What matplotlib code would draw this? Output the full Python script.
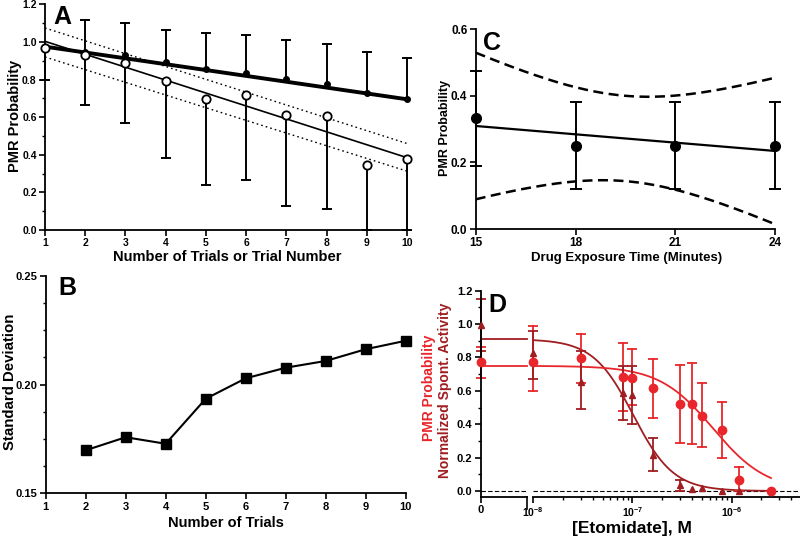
import numpy as np
import matplotlib
matplotlib.use("Agg")
import matplotlib.pyplot as plt
from matplotlib.ticker import MultipleLocator, FixedLocator, FixedFormatter, LogLocator, NullFormatter

plt.rcParams["font.family"] = ["Liberation Sans", "DejaVu Sans"]
plt.rcParams["font.weight"] = "bold"
plt.rcParams["axes.labelweight"] = "bold"
plt.rcParams["mathtext.fontset"] = "custom"
plt.rcParams["mathtext.rm"] = "Liberation Sans:bold"
plt.rcParams["mathtext.bf"] = "Liberation Sans:bold"

RED = "#e8262b"
DARKRED = "#a01e22"

# ---- panel A: PMR probability vs trial
trials = [1, 2, 3, 4, 5, 6, 7, 8, 9, 10]
closed_y = [0.97, 0.947, 0.929, 0.894, 0.855, 0.834, 0.802, 0.775, 0.729, 0.694]
closed_hi = [None, 1.115, 1.103, 1.066, 1.048, 1.036, 1.009, 0.988, 0.944, 0.913]
open_y = [0.97, 0.929, 0.89, 0.791, 0.699, 0.72, 0.614, 0.605, 0.345, 0.375]
open_lo = [0.797, 0.667, 0.567, 0.384, 0.237, 0.266, 0.126, 0.112, 0.0, 0.0]
closed_fit = (1.006, -0.0311)      # intercept, slope
open_fit = (1.0717, -0.0687)
open_band_x = [1, 10]
open_band_hi = [1.074, 0.46]
open_band_lo = [0.92, 0.313]

# ---- panel B: standard deviation vs number of trials
n_trials = [2, 3, 4, 5, 6, 7, 8, 9, 10]
sd = [0.1698, 0.1758, 0.1728, 0.1935, 0.2029, 0.2078, 0.2109, 0.2163, 0.2202]

# ---- panel C: PMR probability vs exposure time
minutes = [15, 18, 21, 24]
pmr_c = [0.333, 0.249, 0.249, 0.249]
pmr_c_lo = [0.19, 0.119, 0.119, 0.119]
pmr_c_hi = [0.474, 0.381, 0.381, 0.381]
c_fit = (0.434, -0.00833)
c_band_mid = 0.128   # half width of confidence band at mean time
c_band_end = 0.22    # half width at 15 and 24 min

# ---- panel D: etomidate concentration response
conc = [0, 1e-8, 3e-8, 8e-8, 1e-7, 1.6e-7, 3e-7, 4e-7, 5e-7, 8e-7, 1.2e-6, 2.5e-6]
pmr_d = [0.771, 0.771, 0.795, 0.684, 0.68, 0.615, 0.521, 0.52, 0.451, 0.363, 0.066, 0.0]
pmr_d_lo = [0.678, 0.599, 0.65, 0.48, 0.515, 0.439, 0.289, 0.28, 0.262, 0.196, 0.0, 0.0]
pmr_d_hi = [0.864, 0.988, 0.94, 0.886, 0.852, 0.789, 0.754, 0.766, 0.649, 0.531, 0.146, 0.0]
spont = [0.994, 0.824, 0.655, 0.585, 0.575, 0.214, 0.036, 0.012, 0.016, 0.0, 0.0, 0.0]
spont_lo = [0.84, 0.67, 0.489, 0.425, 0.40, 0.12, 0.0, 0.012, 0.016, 0.0, 0.0, 0.0]
spont_hi = [1.148, 0.96, 0.838, 0.75, 0.75, 0.316, 0.066, 0.012, 0.016, 0.0, 0.0, 0.0]
pmr_fit = (0.75, 6.5e-7, 1.6)      # top, IC50, hill slope
spont_fit = (0.91, 1.02e-7, 2.14)

W, H = 800, 536
fig = plt.figure(figsize=(W / 100, H / 100), dpi=100)


def box(l, t, r, b):
    return [l / W, 1 - b / H, (r - l) / W, (b - t) / H]


def style(ax, size=8):
    for s in ("top", "right"):
        ax.spines[s].set_visible(False)
    for s in ("left", "bottom"):
        ax.spines[s].set_linewidth(1.3)
    ax.tick_params(which="major", direction="out", length=4, width=1.2, labelsize=size, pad=2)
    ax.tick_params(which="minor", direction="out", length=2.5, width=1.0)


def err_bars(ax, x, y, lo, hi, color, cap=7, lw=1.4):
    for xi, yi, l, h in zip(x, y, lo, hi):
        for end in (l, h):
            if end is None or abs(end - yi) < 1e-9:
                continue
            ax.plot([xi, xi], [yi, end], color=color, lw=lw, clip_on=False, zorder=2)
            ax.plot([xi], [end], marker="_", ms=cap, mew=lw, color=color, clip_on=False, zorder=2)


def label(x, y, s, size, rot=0, color="black"):
    fig.text(x / W, 1 - y / H, s, ha="center", va="center", rotation=rot,
             fontsize=size, fontweight="bold", color=color)


# ================= A
ax = fig.add_axes(box(45, 4.3, 407, 230))
style(ax, 7.5)
xs = np.array([1, 10])
err_bars(ax, trials, closed_y, [None] * 10, closed_hi, "black")
err_bars(ax, trials, open_y, open_lo, [None] * 10, "black")
ax.plot(xs, closed_fit[0] + closed_fit[1] * xs, color="black", lw=2.8, zorder=3)
ax.plot(xs, open_fit[0] + open_fit[1] * xs, color="black", lw=1.2, zorder=3)
ax.plot(open_band_x, open_band_hi, color="black", lw=1.0, ls=(0, (1.2, 2.2)), zorder=3)
ax.plot(open_band_x, open_band_lo, color="black", lw=1.0, ls=(0, (1.2, 2.2)), zorder=3)
ax.plot(trials, closed_y, "o", ms=4, color="black", ls="none", clip_on=False, zorder=4)
ax.plot(trials, open_y, "o", ms=6, mfc="white", mec="black", mew=1.3, ls="none",
        clip_on=False, zorder=5)
ax.set_xlim(1, 10)
ax.set_ylim(0, 1.2)
ax.xaxis.set_major_locator(FixedLocator(trials))
ax.yaxis.set_major_locator(MultipleLocator(0.2))
ax.yaxis.set_minor_locator(MultipleLocator(0.1))
ax.yaxis.set_major_formatter(plt.FormatStrFormatter("%.1f"))
label(15, 116, "PMR Probability", 10.5, rot=90)
label(227, 257, "Number of Trials or Trial Number", 10.5)
fig.text(53 / W, 1 - 5 / H, "A", fontsize=18, fontweight="bold", va="top", ha="left")

# ================= B
ax = fig.add_axes(box(45.7, 276, 405.7, 493.3))
style(ax, 8)
ax.plot(n_trials, sd, color="black", lw=1.5, marker="s", ms=6.5, clip_on=False)
ax.set_xlim(1, 10)
ax.set_ylim(0.15, 0.25)
ax.xaxis.set_major_locator(FixedLocator(trials))
ax.yaxis.set_major_locator(MultipleLocator(0.05))
ax.yaxis.set_minor_locator(MultipleLocator(0.0125))
ax.yaxis.set_major_formatter(plt.FormatStrFormatter("%.2f"))
label(10, 382, "Standard Deviation", 10.8, rot=90)
label(226, 523, "Number of Trials", 10.5)
fig.text(58 / W, 1 - 276 / H, "B", fontsize=18, fontweight="bold", va="top", ha="left")

# ================= C
ax = fig.add_axes(box(475.7, 29, 775.3, 229))
style(ax, 8.5)
xc = np.linspace(minutes[0], minutes[-1], 200)
fit_c = c_fit[0] + c_fit[1] * xc
xm = np.mean(minutes)
k = np.sqrt((c_band_end ** 2 - c_band_mid ** 2) / (minutes[0] - xm) ** 2)
half = np.sqrt(c_band_mid ** 2 + (k * (xc - xm)) ** 2)
ax.plot(xc, fit_c, color="black", lw=1.6)
ax.plot(xc, fit_c + half, color="black", lw=1.8, ls=(0, (4, 2.2)))
ax.plot(xc, fit_c - half, color="black", lw=1.8, ls=(0, (4, 2.2)))
err_bars(ax, minutes, pmr_c, pmr_c_lo, pmr_c_hi, "black", cap=8)
ax.plot(minutes, pmr_c, "o", ms=7, color="black", ls="none", clip_on=False, zorder=4)
ax.set_xlim(15, 24)
ax.set_ylim(0, 0.6)
ax.xaxis.set_major_locator(FixedLocator(minutes))
ax.yaxis.set_major_locator(MultipleLocator(0.2))
ax.yaxis.set_major_formatter(plt.FormatStrFormatter("%.1f"))
label(445, 128, "PMR Probability", 9, rot=90)
label(627, 258, "Drug Exposure Time (Minutes)", 9.5)
fig.text(483 / W, 1 - 31 / H, "C", fontsize=18, fontweight="bold", va="top", ha="left")

# ================= D (zero segment + log segment)
axz = fig.add_axes(box(480.7, 290.7, 527, 496.7))
axl = fig.add_axes(box(533.3, 290.7, 800, 496.7))
style(axz, 8)
style(axl, 8)
axl.spines["left"].set_visible(False)
axl.tick_params(axis="y", which="both", left=False, labelleft=False)
for a in (axz, axl):
    a.set_ylim(-0.034, 1.2)
    a.axhline(0, color="black", lw=0.8, ls=(0, (4, 2)), zorder=1)

axz.set_xlim(0, 1)
axz.xaxis.set_major_locator(FixedLocator([0]))
axz.xaxis.set_major_formatter(FixedFormatter(["0"]))
axz.yaxis.set_major_locator(MultipleLocator(0.2))
axz.yaxis.set_minor_locator(MultipleLocator(0.1))
axz.yaxis.set_major_formatter(plt.FormatStrFormatter("%.1f"))
axz.plot([1, 1], [-0.06, 0.0], color="black", lw=1.2, clip_on=False, transform=axz.get_xaxis_transform())

axl.set_xscale("log")
axl.set_xlim(1e-8, 4.9e-6)
axl.xaxis.set_major_locator(FixedLocator([1e-8, 1e-7, 1e-6]))
axl.xaxis.set_major_formatter(FixedFormatter([r"$10^{-8}$", r"$10^{-7}$", r"$10^{-6}$"]))
axl.xaxis.set_minor_locator(LogLocator(base=10, subs=np.arange(2, 10)))
axl.xaxis.set_minor_formatter(NullFormatter())
axl.tick_params(axis="x", labelsize=7.5)

xf = np.logspace(-8, np.log10(2.5e-6), 300)
for (top, ic50, n), col in ((spont_fit, DARKRED), (pmr_fit, RED)):
    axl.plot(xf, top / (1 + (xf / ic50) ** n), color=col, lw=1.3, zorder=2)
    axz.plot([0, 1], [top, top], color=col, lw=1.3, clip_on=False, zorder=2)

for a, sel in ((axz, slice(0, 1)), (axl, slice(1, None))):
    err_bars(a, conc[sel], pmr_d[sel], pmr_d_lo[sel], pmr_d_hi[sel], RED, cap=7, lw=1.3)
    err_bars(a, conc[sel], spont[sel], spont_lo[sel], spont_hi[sel], DARKRED, cap=7, lw=1.3)
    a.plot(conc[sel], spont[sel], "^", ms=5, color=DARKRED, ls="none", clip_on=False, zorder=4)
    a.plot(conc[sel], pmr_d[sel], "o", ms=6, color=RED, ls="none", clip_on=False, zorder=5)

label(429, 388, "PMR Probability", 10, rot=90, color=RED)
label(445, 390, "Normalized Spont. Activity", 10, rot=90, color=DARKRED)
label(632, 529, "[Etomidate], M", 12.5)
fig.text(488 / W, 1 - 293 / H, "D", fontsize=18, fontweight="bold", va="top", ha="left")

fig.savefig("out.png", dpi=100)
